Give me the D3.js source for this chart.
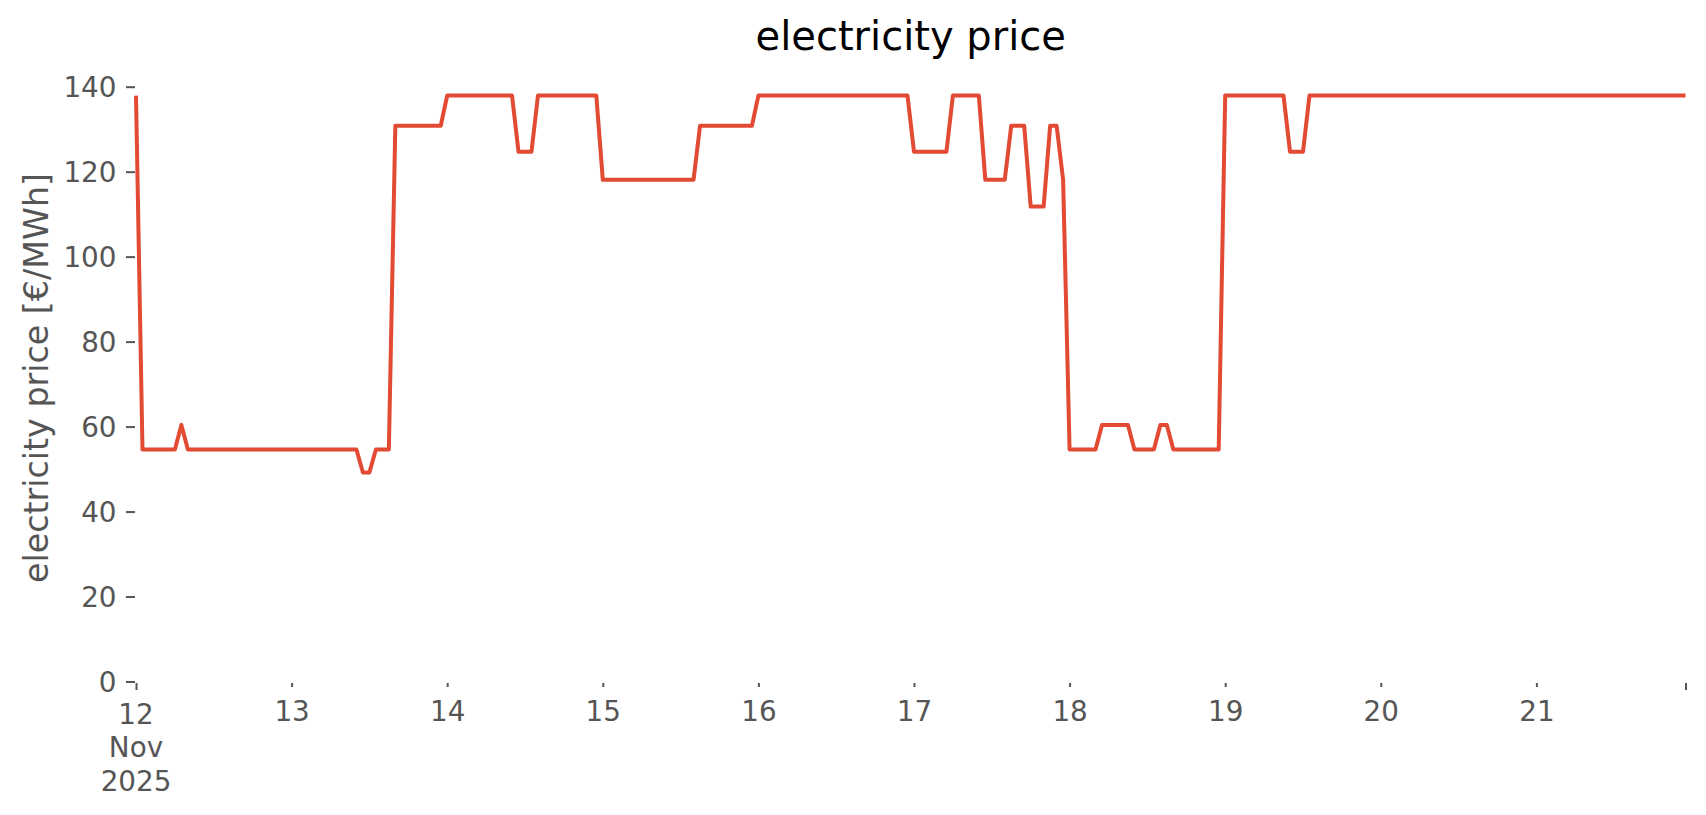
<!DOCTYPE html>
<html>
<head>
<meta charset="utf-8">
<script src="https://cdn.jsdelivr.net/npm/d3@7"></script>
<style>
  html, body { margin: 0; padding: 0; background: #ffffff; }
  svg { display: block; font-family: "DejaVu Sans", sans-serif; }
</style>
</head>
<body>
<svg id="chart" width="1706" height="815"></svg>
<script>
// Hourly electricity price [€/MWh], one array per day (00:00 .. 23:00)
const day12 = [137.9, 54.6, 54.6, 54.6, 54.6, 54.6, 54.6, 60.4, 54.6, 54.6, 54.6, 54.6, 54.6, 54.6, 54.6, 54.6, 54.6, 54.6, 54.6, 54.6, 54.6, 54.6, 54.6, 54.6];
const day13 = [54.6, 54.6, 54.6, 54.6, 54.6, 54.6, 54.6, 54.6, 54.6, 54.6, 54.6, 49.2, 49.2, 54.6, 54.6, 54.6, 130.8, 130.8, 130.8, 130.8, 130.8, 130.8, 130.8, 130.8];
const day14 = [137.9, 137.9, 137.9, 137.9, 137.9, 137.9, 137.9, 137.9, 137.9, 137.9, 137.9, 124.7, 124.7, 124.7, 137.9, 137.9, 137.9, 137.9, 137.9, 137.9, 137.9, 137.9, 137.9, 137.9];
const day15 = [118.1, 118.1, 118.1, 118.1, 118.1, 118.1, 118.1, 118.1, 118.1, 118.1, 118.1, 118.1, 118.1, 118.1, 118.1, 130.8, 130.8, 130.8, 130.8, 130.8, 130.8, 130.8, 130.8, 130.8];
const day16 = [137.9, 137.9, 137.9, 137.9, 137.9, 137.9, 137.9, 137.9, 137.9, 137.9, 137.9, 137.9, 137.9, 137.9, 137.9, 137.9, 137.9, 137.9, 137.9, 137.9, 137.9, 137.9, 137.9, 137.9];
const day17 = [124.7, 124.7, 124.7, 124.7, 124.7, 124.7, 137.9, 137.9, 137.9, 137.9, 137.9, 118.1, 118.1, 118.1, 118.1, 130.8, 130.8, 130.8, 111.8, 111.8, 111.8, 130.8, 130.8, 118.1];
const day18 = [54.6, 54.6, 54.6, 54.6, 54.6, 60.4, 60.4, 60.4, 60.4, 60.4, 54.6, 54.6, 54.6, 54.6, 60.4, 60.4, 54.6, 54.6, 54.6, 54.6, 54.6, 54.6, 54.6, 54.6];
const day19 = [137.9, 137.9, 137.9, 137.9, 137.9, 137.9, 137.9, 137.9, 137.9, 137.9, 124.7, 124.7, 124.7, 137.9, 137.9, 137.9, 137.9, 137.9, 137.9, 137.9, 137.9, 137.9, 137.9, 137.9];
const day20 = [137.9, 137.9, 137.9, 137.9, 137.9, 137.9, 137.9, 137.9, 137.9, 137.9, 137.9, 137.9, 137.9, 137.9, 137.9, 137.9, 137.9, 137.9, 137.9, 137.9, 137.9, 137.9, 137.9, 137.9];
const day21 = [137.9, 137.9, 137.9, 137.9, 137.9, 137.9, 137.9, 137.9, 137.9, 137.9, 137.9, 137.9, 137.9, 137.9, 137.9, 137.9, 137.9, 137.9, 137.9, 137.9, 137.9, 137.9, 137.9, 137.9];
const dayStarts = ["2025-11-12", "2025-11-13", "2025-11-14", "2025-11-15", "2025-11-16", "2025-11-17", "2025-11-18", "2025-11-19", "2025-11-20", "2025-11-21"];
const yTicks = [0, 20, 40, 60, 80, 100, 120, 140];
const minorTickDays = ["2025-11-13", "2025-11-14", "2025-11-15", "2025-11-16", "2025-11-17", "2025-11-18", "2025-11-19", "2025-11-20", "2025-11-21"];
const firstLabel = ["12", "Nov", "2025"];
const titleText = "electricity price";
const yLabelText = "electricity price [€/MWh]";

// build hourly table
const days = [day12, day13, day14, day15, day16, day17, day18, day19, day20, day21];
const data = [];
days.forEach((vals, di) => {
  const base = new Date(dayStarts[di] + "T00:00:00Z");
  vals.forEach((v, h) => {
    data.push({ t: new Date(base.getTime() + h * 3600 * 1000), v: v });
  });
});

const svg = d3.select("#chart");
const left = 136, right = 1685.5, yZero = 681.5, yTop140 = 86.7;
const axisY = 683;

const x = d3.scaleUtc()
  .domain([data[0].t, data[data.length - 1].t])
  .range([left, right]);
const y = d3.scaleLinear()
  .domain([0, 140])
  .range([yZero, yTop140]);

const tickColor = "#555555";

// y axis
const yAxis = d3.axisLeft(y).tickValues(yTicks).tickSize(9).tickPadding(9.5).tickFormat(d3.format("d"));
const gy = svg.append("g").attr("transform", `translate(135,0)`).call(yAxis);
gy.select(".domain").remove();
gy.selectAll(".tick line").attr("stroke", tickColor).attr("stroke-width", 2);
gy.selectAll(".tick text")
  .attr("fill", tickColor)
  .attr("font-size", 27.8)
  .attr("font-family", "DejaVu Sans")
  .attr("dy", "0.36em");

// x axis minor (day) ticks
const minorDates = minorTickDays.map(s => new Date(s + "T00:00:00Z"));
const xMinor = d3.axisBottom(x).tickValues(minorDates).tickSize(4).tickPadding(9.5)
  .tickFormat(d3.utcFormat("%-d"));
const gxm = svg.append("g").attr("transform", `translate(0,${axisY})`).call(xMinor);
gxm.select(".domain").remove();
gxm.selectAll(".tick line").attr("stroke", tickColor).attr("stroke-width", 2);
gxm.selectAll(".tick text")
  .attr("fill", tickColor)
  .attr("font-size", 27.8)
  .attr("font-family", "DejaVu Sans")
  .attr("y", 0).attr("dy", null)
  .attr("transform", "translate(0,38)");

// x axis major ticks (start and end)
const majorDates = [data[0].t, data[data.length - 1].t];
const xMajor = d3.axisBottom(x).tickValues(majorDates).tickSize(7).tickFormat("");
const gxM = svg.append("g").attr("transform", `translate(0,${axisY})`).call(xMajor);
gxM.select(".domain").remove();
gxM.selectAll(".tick line").attr("stroke", tickColor).attr("stroke-width", 2);
// multi-line label for the first major tick
const fl = svg.append("text")
  .attr("x", x(data[0].t))
  .attr("y", axisY + 41)
  .attr("text-anchor", "middle")
  .attr("fill", tickColor)
  .attr("font-size", 27.8)
  .attr("font-family", "DejaVu Sans");
firstLabel.forEach((s, i) => {
  fl.append("tspan").attr("x", x(data[0].t)).attr("dy", i === 0 ? 0 : 33.4).text(s);
});

// line
const line = d3.line().x(d => x(d.t)).y(d => y(d.v));
svg.append("path")
  .datum(data)
  .attr("d", line)
  .attr("fill", "none")
  .attr("stroke", "#E24A33")
  .attr("stroke-width", 4)
  .attr("stroke-linejoin", "round")
  .attr("stroke-linecap", "butt");

// title
svg.append("text")
  .attr("x", (left + right) / 2)
  .attr("y", 50)
  .attr("text-anchor", "middle")
  .attr("fill", "#000000")
  .attr("font-size", 40)
  .attr("font-family", "DejaVu Sans")
  .text(titleText);

// y label
svg.append("text")
  .attr("transform", `translate(48,378) rotate(-90)`)
  .attr("text-anchor", "middle")
  .attr("fill", tickColor)
  .attr("font-size", 33.3)
  .attr("font-family", "DejaVu Sans")
  .text(yLabelText);
</script>
</body>
</html>
